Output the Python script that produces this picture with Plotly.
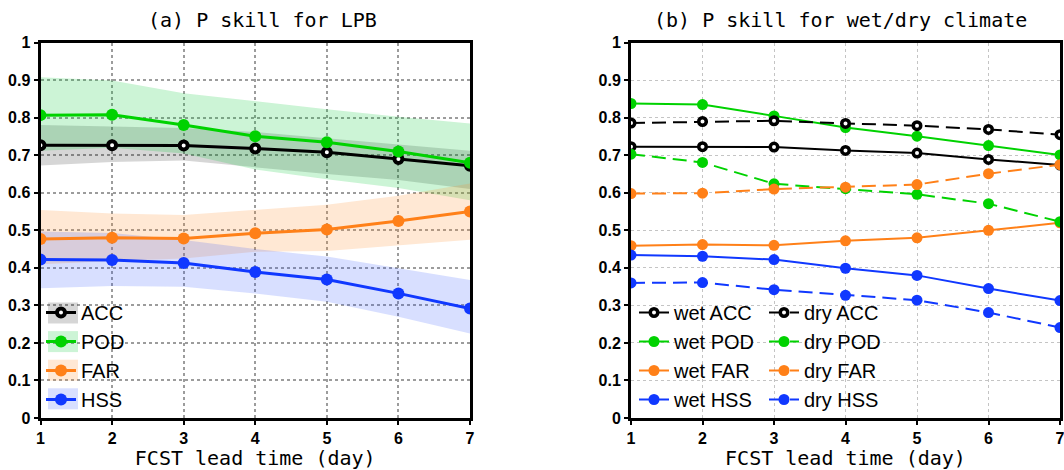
import plotly.graph_objects as go

W, H = 1064, 470
days = [1, 2, 3, 4, 5, 6, 7]

# ---- panel (a) LPB ----
acc = [0.727, 0.727, 0.726, 0.718, 0.708, 0.690, 0.672]
acc_hi = [0.781, 0.777, 0.773, 0.762, 0.745, 0.727, 0.712]
acc_lo = [0.673, 0.682, 0.686, 0.668, 0.650, 0.634, 0.610]
pod = [0.807, 0.808, 0.781, 0.751, 0.735, 0.710, 0.680]
pod_hi = [0.908, 0.899, 0.865, 0.843, 0.823, 0.803, 0.785]
pod_lo = [0.712, 0.720, 0.705, 0.662, 0.636, 0.613, 0.580]
far = [0.477, 0.480, 0.478, 0.492, 0.502, 0.525, 0.550]
far_hi = [0.554, 0.545, 0.541, 0.554, 0.568, 0.592, 0.625]
far_lo = [0.410, 0.418, 0.425, 0.443, 0.445, 0.460, 0.475]
hss = [0.422, 0.421, 0.413, 0.389, 0.369, 0.332, 0.292]
hss_hi = [0.497, 0.493, 0.474, 0.450, 0.430, 0.399, 0.368]
hss_lo = [0.346, 0.352, 0.350, 0.332, 0.310, 0.270, 0.225]

# ---- panel (b) wet / dry ----
wet_acc = [0.723, 0.723, 0.722, 0.713, 0.706, 0.689, 0.674]
dry_acc = [0.786, 0.790, 0.792, 0.785, 0.779, 0.769, 0.755]
wet_pod = [0.838, 0.835, 0.805, 0.774, 0.751, 0.726, 0.701]
dry_pod = [0.703, 0.681, 0.624, 0.611, 0.596, 0.571, 0.523]
wet_far = [0.459, 0.462, 0.460, 0.472, 0.480, 0.500, 0.520]
dry_far = [0.598, 0.599, 0.610, 0.615, 0.622, 0.651, 0.675]
wet_hss = [0.434, 0.431, 0.422, 0.399, 0.380, 0.345, 0.313]
dry_hss = [0.360, 0.361, 0.342, 0.327, 0.314, 0.281, 0.241]

names = ["ACC", "POD", "FAR", "HSS"]
line_colors = {"ACC": "black", "POD": "rgb(0,210,0)", "FAR": "rgb(255,128,24)", "HSS": "rgb(16,56,255)"}
band_colors = {"ACC": "rgba(0,0,0,0.16)", "POD": "rgba(0,200,50,0.20)",
               "FAR": "rgba(255,140,40,0.20)", "HSS": "rgba(40,80,255,0.18)"}

fig = go.Figure()

def marker_for(name, size, ring):
    if name == "ACC":
        return dict(color="white", size=size - ring, line=dict(color="black", width=ring))
    return dict(color=line_colors[name], size=size, line=dict(width=0))

series_a = {"ACC": (acc, acc_hi, acc_lo), "POD": (pod, pod_hi, pod_lo),
            "FAR": (far, far_hi, far_lo), "HSS": (hss, hss_hi, hss_lo)}
for n in names:
    v, hi, lo = series_a[n]
    fig.add_trace(go.Scatter(x=days + days[::-1], y=hi + lo[::-1], fill="toself",
                             fillcolor=band_colors[n], line=dict(width=0), mode="lines",
                             hoverinfo="skip", showlegend=False, xaxis="x", yaxis="y"))
for n in names:
    v, hi, lo = series_a[n]
    fig.add_trace(go.Scatter(x=days, y=v, mode="lines+markers", name=n,
                             line=dict(color=line_colors[n], width=3),
                             marker=marker_for(n, 12, 4), legend="legend",
                             xaxis="x", yaxis="y"))

series_wet = {"ACC": wet_acc, "POD": wet_pod, "FAR": wet_far, "HSS": wet_hss}
series_dry = {"ACC": dry_acc, "POD": dry_pod, "FAR": dry_far, "HSS": dry_hss}
for n in names:
    fig.add_trace(go.Scatter(x=days, y=series_wet[n], mode="lines+markers", name="wet " + n,
                             line=dict(color=line_colors[n], width=2),
                             marker=marker_for(n, 11, 3.5), legend="legend2",
                             xaxis="x2", yaxis="y2"))
for n in names:
    fig.add_trace(go.Scatter(x=days, y=series_dry[n], mode="lines+markers", name="dry " + n,
                             line=dict(color=line_colors[n], width=2, dash="14px,7px"),
                             marker=marker_for(n, 11, 3.5), legend="legend3",
                             xaxis="x2", yaxis="y2"))

xa = [40.5 / W, 470 / W]
xb = [631 / W, 1060 / W]
yd = [1 - 418 / H, 1 - 42.7 / H]

tickfont = dict(family="Liberation Sans", size=16, color="black", weight="bold")
titlefont = dict(family="DejaVu Sans Mono", size=20, color="black")

def xaxis(domain, anchor, gridcolor, gridwidth):
    return dict(domain=domain, anchor=anchor, range=[1, 7], dtick=1, tick0=1,
                showline=True, linewidth=3, linecolor="black", mirror=True,
                ticks="outside", ticklen=4, tickwidth=2, tickcolor="black",
                showgrid=True, gridcolor=gridcolor, gridwidth=gridwidth, griddash="dot",
                zeroline=False, tickfont=tickfont, ticklabelstandoff=0, automargin=False,
                ticklabeloverflow="allow",
                title=dict(text="FCST lead time (day)", font=titlefont, standoff=0))

def yaxis(anchor, gridcolor, gridwidth):
    return dict(domain=yd, anchor=anchor, range=[0, 1], dtick=0.1, tick0=0,
                showline=True, linewidth=3, linecolor="black", mirror=True,
                ticks="outside", ticklen=4, tickwidth=2, tickcolor="black",
                showgrid=True, gridcolor=gridcolor, gridwidth=gridwidth, griddash="dot",
                zeroline=False, tickfont=tickfont, automargin=False,
                ticklabeloverflow="allow")

legfont = dict(family="Liberation Sans", size=20, color="black")
leg_top = 293
fig.update_layout(
    width=W, height=H, margin=dict(l=0, r=0, t=0, b=0, autoexpand=False),
    paper_bgcolor="white", plot_bgcolor="white",
    xaxis=xaxis(xa, "y", "#9c9c9c", 2),
    yaxis=yaxis("x", "#9c9c9c", 2),
    xaxis2=xaxis(xb, "y2", "#c4c4c4", 1),
    yaxis2=yaxis("x2", "#c4c4c4", 1),
    legend=dict(x=41 / W, y=1 - leg_top / H, xanchor="left", yanchor="top", font=legfont,
                bgcolor="rgba(0,0,0,0)", itemwidth=30, tracegroupgap=0),
    legend2=dict(x=634 / W, y=1 - leg_top / H, xanchor="left", yanchor="top", font=legfont,
                 bgcolor="rgba(0,0,0,0)", itemwidth=30),
    legend3=dict(x=764 / W, y=1 - leg_top / H, xanchor="left", yanchor="top", font=legfont,
                 bgcolor="rgba(0,0,0,0)", itemwidth=30),
    annotations=[
        dict(text="(a) P skill for LPB", x=262 / W, y=1 - 20 / H,
             xref="paper", yref="paper", showarrow=False, font=titlefont,
             xanchor="center", yanchor="middle"),
        dict(text="(b) P skill for wet/dry climate", x=840 / W, y=1 - 20 / H,
             xref="paper", yref="paper", showarrow=False, font=titlefont,
             xanchor="center", yanchor="middle"),
    ],
)

# shaded swatches behind the legend symbols of panel (a)
row0, row_step = 313, 28.6
shapes = []
for i, n in enumerate(names):
    yc = row0 + i * row_step
    shapes.append(dict(type="rect", xref="paper", yref="paper",
                       x0=48 / W, x1=78 / W, y0=1 - (yc + 10.5) / H, y1=1 - (yc - 10.5) / H,
                       fillcolor=band_colors[n], line=dict(width=0), layer="above"))
fig.update_layout(shapes=shapes)

fig.write_html("out.html", config={"displayModeBar": False},
               post_script="document.body.style.margin='0';document.body.style.overflow='hidden';")
